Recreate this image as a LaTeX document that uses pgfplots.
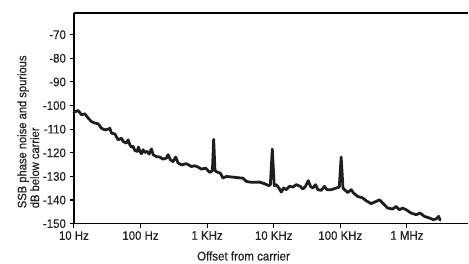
\documentclass[border=0pt]{standalone}
\usepackage{fontspec}
\setmainfont{Liberation Sans}[FakeStretch=0.92, FakeBold=0.5]
\usepackage{pgfplots}
\pgfplotsset{compat=1.18}
\usetikzlibrary{calc}
\definecolor{ink}{HTML}{1E1E1E}
\definecolor{txt}{HTML}{222222}
\begin{document}
\begin{tikzpicture}
\begin{axis}[
  scale only axis, width=395bp, height=211bp,
  xmin=1, xmax=6.922, ymin=-150, ymax=-60.8,
  axis x line=box, axis y line=left,
  axis line style={-, line width=1.4pt, black},
  xtick={1,2,3,4,5,6},
  xticklabels={10 Hz,100 Hz,1 KHz,10 KHz,100 KHz,1 MHz},
  ytick={-150,-140,-130,-120,-110,-100,-90,-80,-70},
  xtick pos=left, ytick pos=left,
  tick align=outside, major tick length=4bp,
  tick style={line width=1.1pt, black},
  /pgf/number format/assume math mode=true,
  tick label style={font=\fontsize{12.5}{14}\selectfont, text=txt},
  yticklabel style={xshift=-0.5bp},
  xticklabel style={yshift=0bp},
  clip=false,
]
\addplot[color=ink, line width=2.8pt, line join=round, line cap=round] coordinates {
(1.000,-102.8) (1.064,-102.1) (1.115,-103.9) (1.165,-103.5) (1.214,-105.3)
(1.265,-106.8) (1.315,-107.4) (1.364,-107.7) (1.415,-109.6) (1.465,-110.3)
(1.514,-110.0) (1.540,-109.6) (1.565,-111.7) (1.615,-112.0) (1.664,-114.5)
(1.715,-113.8) (1.739,-115.2) (1.790,-115.9) (1.814,-114.5) (1.840,-116.6)
(1.865,-117.6) (1.889,-117.3) (1.915,-119.0) (1.949,-119.4) (1.970,-117.6)
(1.990,-119.4) (2.015,-120.4) (2.039,-118.7) (2.064,-119.9) (2.099,-119.4)
(2.129,-120.5) (2.165,-118.4) (2.189,-120.8) (2.240,-121.6) (2.289,-121.8)
(2.339,-122.7) (2.390,-122.2) (2.414,-120.8) (2.450,-123.0) (2.489,-123.7)
(2.529,-121.8) (2.564,-124.3) (2.615,-125.1) (2.690,-124.6) (2.765,-125.8)
(2.814,-125.5) (2.864,-126.0) (2.915,-126.9) (2.979,-126.5) (3.013,-127.5)
(3.039,-128.3) (3.064,-127.9) (3.080,-127.5) (3.099,-114.3) (3.118,-127.5)
(3.135,-127.9) (3.163,-128.3) (3.199,-128.6) (3.238,-130.7) (3.289,-130.0)
(3.388,-130.3) (3.514,-130.7) (3.538,-130.7) (3.589,-132.1) (3.664,-132.5)
(3.789,-132.4) (3.864,-133.1) (3.928,-133.9) (3.950,-133.5) (3.979,-118.4)
(4.008,-133.9) (4.039,-133.5) (4.078,-134.9) (4.114,-136.6) (4.148,-134.9)
(4.189,-135.6) (4.238,-134.2) (4.288,-134.5) (4.339,-133.5) (4.399,-134.2)
(4.438,-135.3) (4.478,-134.2) (4.519,-131.8) (4.553,-134.2) (4.588,-134.9)
(4.628,-133.5) (4.663,-135.6) (4.714,-135.9) (4.763,-134.2) (4.798,-135.6)
(4.864,-135.6) (4.939,-134.9) (4.985,-134.5) (5.013,-121.8) (5.040,-134.9)
(5.063,-135.6) (5.112,-136.8) (5.163,-135.6) (5.198,-137.0) (5.262,-138.5)
(5.337,-139.1) (5.388,-140.3) (5.463,-141.5) (5.538,-140.6) (5.588,-139.9)
(5.637,-141.3) (5.712,-143.4) (5.787,-143.8) (5.838,-142.7) (5.888,-144.1)
(5.937,-143.4) (5.988,-144.1) (6.063,-145.5) (6.138,-146.2) (6.198,-145.5)
(6.262,-146.9) (6.337,-147.6) (6.397,-148.3) (6.438,-148.0) (6.477,-146.9)
(6.498,-148.5)
};
\node[rotate=90, anchor=north west, align=left, text=txt,
      font=\fontsize{12.2}{12.9}\selectfont]
  at (axis description cs:-0.152,0.057)
  {SSB phase noise and spurious\\dB below carrier};
\node[anchor=north, text=txt, font=\fontsize{12.6}{14}\selectfont]
  at (axis description cs:0.43,-0.115) {Offset from carrier};
\end{axis}
\path ($(current axis.south west)+(-74bp,-36bp)$) rectangle ($(current axis.north east)+(0,13bp)$);
\end{tikzpicture}
\end{document}
